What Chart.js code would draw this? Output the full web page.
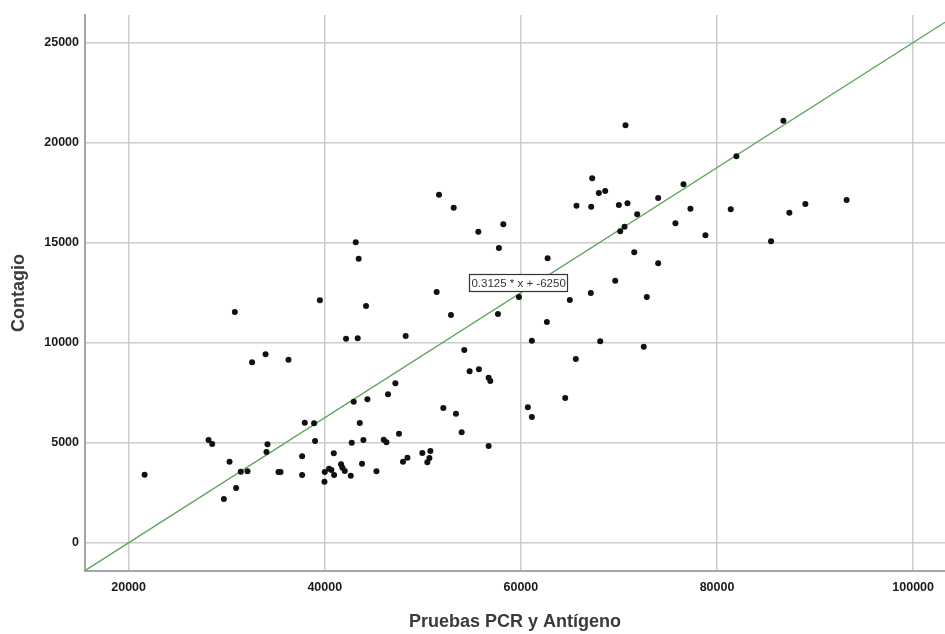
<!DOCTYPE html>
<html lang="es">
<head>
    <meta charset="UTF-8">
    <title>Contagio vs Pruebas PCR y Antígeno</title>
    <script src="https://cdn.jsdelivr.net/npm/chart.js"></script>
    <style>
        html, body { margin: 0; padding: 0; background: #ffffff; overflow: hidden; width: 945px; height: 634px; }
        #chart { display: block; }
    </style>
</head>
<body>
    <!-- a few px wider than the window: the plot runs off the right edge like the original -->
    <canvas id="chart" width="949" height="634"></canvas>

    <script>
        // --- Data ---
        const pruebas = [
            21630, 30830, 32590, 33960, 36300, 28150, 28520, 30290, 31440, 32120,
            30960, 29710, 34160, 34060, 35280, 35490, 37960, 38910, 39010, 37690,
            37690, 39500, 44210, 42170, 43360, 48250, 52870, 57660, 62650, 61120,
            68090, 65600, 64520, 60710, 61120, 54230, 54770, 55720, 56710, 56880,
            47200, 46450, 42950, 44350, 43570, 52090, 53380, 53960, 56710, 42750,
            43940, 46010, 46290, 47570, 40920, 40000, 40440, 40680, 40950, 39970,
            41660, 41800, 42040, 42650, 43800, 45270, 47980, 48430, 49950, 50460,
            50670, 50770, 43160, 43460, 51650, 53150, 55660, 58210, 57760, 51410,
            59800, 62730, 64990, 67130, 69620, 67270, 67950, 68600, 65670, 67170,
            69990, 70870, 70130, 70570, 70670, 86770, 81980, 76580, 74000, 77290,
            81400, 87380, 89010, 93220, 71860, 75760, 78820, 85510, 71560, 74000,
            72840, 72530
        ];
        const contagio = [
            3400, 11535, 9020, 9420, 9150, 5135, 4935, 4050, 3550, 3570,
            2735, 2185, 4920, 4535, 3535, 3535, 6000, 5970, 5085, 4320,
            3385, 12120, 11840, 10200, 10220, 10335, 11385, 11435, 11035, 10100,
            10070, 9185, 7235, 6770, 6285, 9635, 8570, 8670, 8250, 8085,
            7970, 7420, 7050, 7170, 5985, 6735, 6450, 5520, 4835, 5000,
            5135, 5150, 5020, 5450, 4470, 3535, 3700, 3635, 3385, 3050,
            3920, 3750, 3585, 3350, 3950, 3570, 4050, 4250, 4485, 4020,
            4235, 4585, 15020, 14200, 17400, 16750, 15550, 15920, 14735, 12535,
            12285, 14220, 12135, 12485, 13100, 18220, 17485, 17585, 16850, 16800,
            16885, 16970, 15570, 15800, 20870, 21100, 19320, 17920, 17235, 16700,
            16670, 16500, 16935, 17135, 16420, 15970, 15370, 15070, 14520, 13970,
            12285, 9800
        ];

        const xTicks = [20000, 40000, 60000, 80000, 100000];
        const yTicks = [0, 5000, 10000, 15000, 20000, 25000];
        const xRange = [15550, 103250];
        const yRange = [-1410, 26380];

        // fitted line shown in the picture
        const slope = 0.3125;
        const intercept = -6250;
        const fitLabel = '0.3125 * x + -6250';
        const fitLabelAt = [59770, 12985];

        const points = pruebas.map((x, i) => ({ x: x, y: contagio[i] }));
        const fitLine = xRange.map(x => ({ x: x, y: slope * x + intercept }));

        // --- Small plugin for the boxed equation label ---
        const fitLabelPlugin = {
            id: 'fitLabel',
            afterDatasetsDraw(chart) {
                const { ctx, scales } = chart;
                const cx = scales.x.getPixelForValue(fitLabelAt[0]);
                const cy = scales.y.getPixelForValue(fitLabelAt[1]);
                ctx.save();
                ctx.font = '11.5px "Liberation Sans", Arial, sans-serif';
                const w = ctx.measureText(fitLabel).width + 4;
                const h = 17;
                ctx.fillStyle = '#ffffff';
                ctx.fillRect(cx - w / 2, cy - h / 2, w, h);
                ctx.strokeStyle = '#333333';
                ctx.lineWidth = 1.2;
                ctx.strokeRect(Math.round(cx - w / 2) + 0.5, Math.round(cy - h / 2) + 0.5, Math.round(w), h);
                ctx.fillStyle = '#333333';
                ctx.textAlign = 'center';
                ctx.textBaseline = 'middle';
                ctx.fillText(fitLabel, cx, cy + 1);
                ctx.restore();
            }
        };

        const tickFont = { family: '"Liberation Sans", Arial, sans-serif', size: 12.5, weight: 'bold' };
        const titleFont = { family: '"Liberation Sans", Arial, sans-serif', size: 18, weight: 'bold' };

        new Chart(document.getElementById('chart'), {
            type: 'scatter',
            data: {
                datasets: [
                    {
                        label: 'Contagio',
                        data: points,
                        backgroundColor: '#111111',
                        borderColor: '#111111',
                        pointRadius: 3,
                        pointBorderWidth: 0,
                        order: 0
                    },
                    {
                        type: 'line',
                        label: 'Ajuste',
                        data: fitLine,
                        borderColor: '#5ea35e',
                        borderWidth: 1.4,
                        pointRadius: 0,
                        fill: false,
                        order: 1
                    }
                ]
            },
            options: {
                responsive: false,
                devicePixelRatio: 1,
                animation: false,
                layout: { padding: { top: 15, right: 0, left: 0, bottom: 0 } },
                plugins: { legend: { display: false }, tooltip: { enabled: false } },
                scales: {
                    x: {
                        type: 'linear',
                        min: xRange[0],
                        max: xRange[1],
                        afterBuildTicks: s => { s.ticks = xTicks.map(v => ({ value: v })); },
                        afterFit: s => { s.height = 63; },
                        grid: { color: '#cccccc', lineWidth: 1.5, drawTicks: false },
                        border: { color: '#a6a6a6', width: 2 },
                        ticks: { font: tickFont, color: '#1a1a1a', padding: 9, maxRotation: 0, callback: v => String(v) },
                        title: { display: true, text: 'Pruebas PCR y Antígeno', font: titleFont, color: '#3a3a3a', padding: { top: 0, bottom: 1 } }
                    },
                    y: {
                        type: 'linear',
                        min: yRange[0],
                        max: yRange[1],
                        afterBuildTicks: s => { s.ticks = yTicks.map(v => ({ value: v })); },
                        afterFit: s => { s.width = 85; },
                        grid: { color: '#cccccc', lineWidth: 1.5, drawTicks: false },
                        border: { color: '#a6a6a6', width: 2 },
                        ticks: { font: tickFont, color: '#1a1a1a', padding: 6, callback: v => String(v) },
                        title: { display: true, text: 'Contagio', font: titleFont, color: '#3a3a3a', padding: { top: 8, bottom: 0 } }
                    }
                }
            },
            plugins: [fitLabelPlugin]
        });
    </script>
</body>
</html>
